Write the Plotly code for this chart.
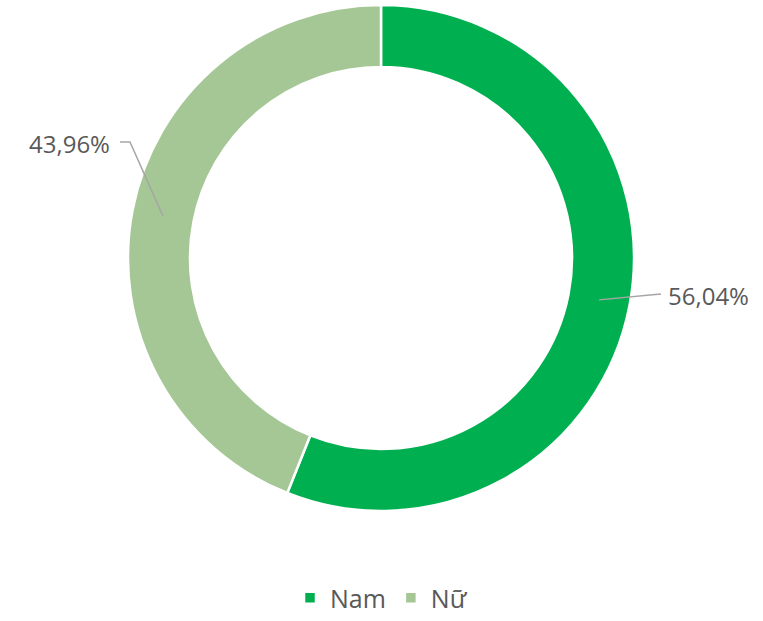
import math
import plotly.graph_objects as go

labels = ["Nam", "Nữ"]
values = [56.04, 43.96]
colors = ["#00B050", "#A5C796"]
value_text = ["56,04%", "43,96%"]

W, H = 763, 621
CX, CY, R_OUT = 381, 258, 253
HOLE = 0.755

def px(x):
    return x / W

def py(y):
    return 1 - y / H

fig = go.Figure(go.Pie(
    labels=labels,
    values=values,
    hole=HOLE,
    sort=False,
    direction="clockwise",
    rotation=0,
    marker=dict(colors=colors, line=dict(color="white", width=2.5)),
    textinfo="none",
    hoverinfo="label+percent",
    domain=dict(x=[px(CX - R_OUT), px(CX + R_OUT)], y=[py(CY + R_OUT), py(CY - R_OUT)]),
))

# leader lines and labels, anchored at each slice's mid-angle
total = sum(values)
r_mid = R_OUT * (1 + HOLE) / 2
elbows = [(650, 295), (130, 142)]  # label elbow positions (style)
ends = [(661, 294), (120, 142)]
cum = 0
for i, v in enumerate(values):
    mid = (cum + v / 2) / total * 2 * math.pi
    cum += v
    sx = CX + r_mid * math.sin(mid)
    sy = CY - r_mid * math.cos(mid)
    ex, ey = elbows[i]
    tx, ty = ends[i]
    fig.add_shape(
        type="path", xref="paper", yref="paper",
        path=f"M {px(sx)} {py(sy)} L {px(ex)} {py(ey)} L {px(tx)} {py(ty)}",
        line=dict(color="#A6A6A6", width=1.5),
    )
    right = tx > CX
    fig.add_annotation(
        x=px(tx + (5 if right else -8)), y=py(ty + 1), xref="paper", yref="paper",
        text=value_text[i], showarrow=False,
        xanchor="left" if right else "right", yanchor="middle",
        font=dict(size=24, color="#595959", family="Open Sans"),
    )

fig.update_layout(
    width=W, height=H,
    margin=dict(l=0, r=0, t=0, b=0),
    paper_bgcolor="white", plot_bgcolor="white",
    showlegend=True,
    legend=dict(
        orientation="h", x=0.5, xanchor="center", y=0, yanchor="bottom",
        font=dict(size=25, color="#595959", family="Open Sans"),
        itemwidth=30,
    ),
)

fig.write_html(
    "out.html",
    config={"displayModeBar": False},
    post_script="document.body.style.margin='0';document.body.style.padding='0';",
)
